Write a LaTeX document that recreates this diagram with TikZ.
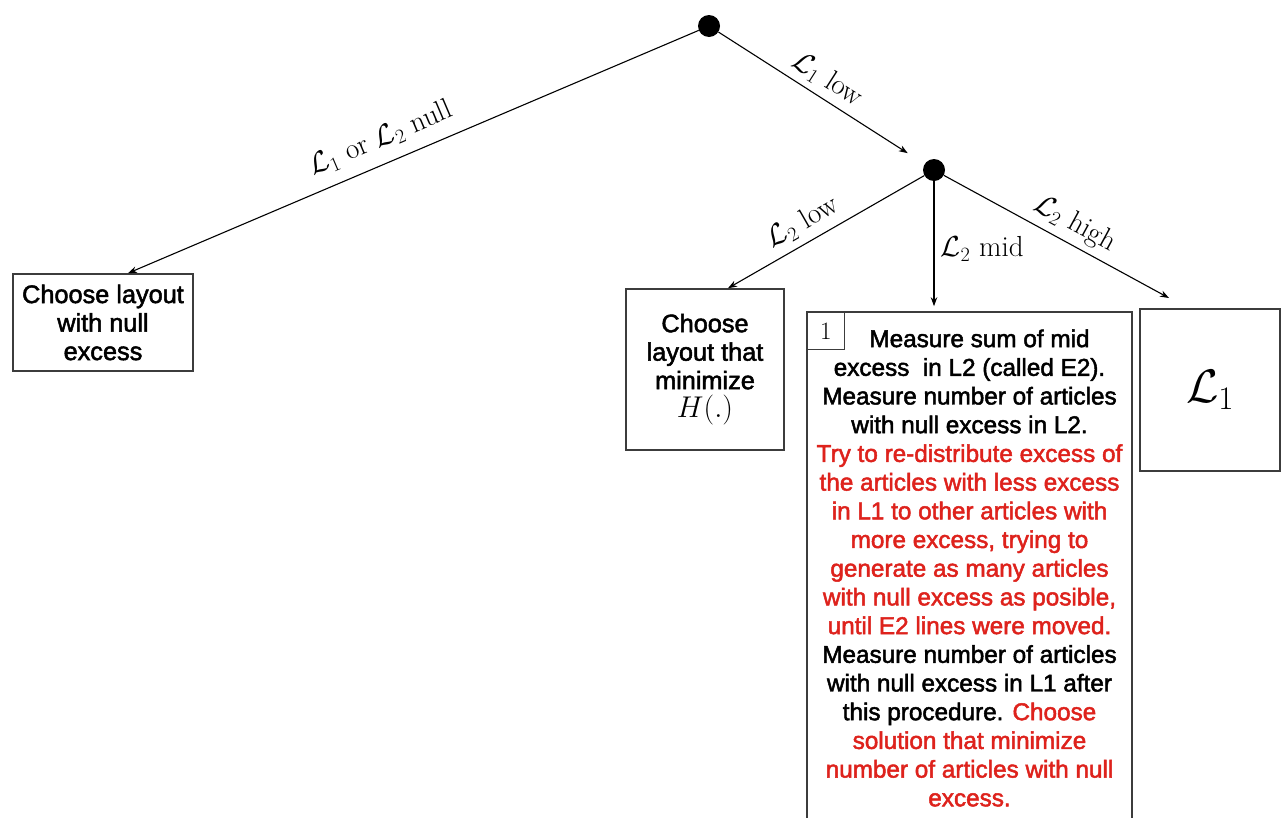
\RequirePackage{fix-cm}
\documentclass[tikz,border=0pt]{standalone}
\usepackage{amsmath}
\usepackage{fontspec}
\usetikzlibrary{arrows.meta}
\newfontfamily\boxsans[FakeBold=2]{Liberation Sans}
\definecolor{txtred}{RGB}{222,34,28}
\definecolor{boxline}{RGB}{60,60,60}
\begin{document}
\begin{tikzpicture}[x=1pt,y=-1pt,
  dot/.style={circle,fill=black,inner sep=0pt,minimum size=22pt},
  arr/.style={-{Stealth[length=9pt,width=6.5pt]},line width=1.1pt},
  lbl/.style={font=\fontsize{29}{34}\selectfont,inner sep=3pt},
  plainbox/.style={draw=boxline,line width=1.6pt,align=center,inner sep=0pt},
  sanstext/.style={font=\boxsans\fontsize{25.3}{28.5}\selectfont}]
\useasboundingbox[fill=white] (0,0) rectangle (1282,817);

% decision points
\node[dot] (top) at (709,26) {};
\node[dot] (mid) at (934,170) {};

% outcome boxes
\node[plainbox,sanstext,minimum width=180pt,minimum height=97pt] (A) at (103,322.5)
  {Choose layout\\with null\\excess};
\node[plainbox,sanstext,minimum width=158pt,minimum height=161pt] (B) at (705,369.5)
  {Choose\\layout that\\minimize\\{\fontsize{30}{30}\selectfont$H(.)$}};
\node[plainbox,font=\boxsans\fontsize{24.3}{28.7}\selectfont,minimum width=325pt,minimum height=512pt] (C) at (969.5,568)
  {\hspace*{20pt}Measure sum of mid\\
   excess\ \ in L2 (called E2).\\
   Measure number of articles\\
   with null excess in L2.\\
   \textcolor{txtred}{Try to re-distribute excess of}\\
   \textcolor{txtred}{the articles with less excess}\\
   \textcolor{txtred}{in L1 to other articles with}\\
   \textcolor{txtred}{more excess, trying to}\\
   \textcolor{txtred}{generate as many articles}\\
   \textcolor{txtred}{with null excess as posible,}\\
   \textcolor{txtred}{until E2 lines were moved.}\\
   Measure number of articles\\
   with null excess in L1 after\\
   this procedure. \textcolor{txtred}{Choose}\\
   \textcolor{txtred}{solution that minimize}\\
   \textcolor{txtred}{number of articles with null}\\
   \textcolor{txtred}{excess.}};
\node[draw=boxline,line width=1.2pt,minimum size=38pt,anchor=north west,inner sep=0pt,
  font=\fontsize{25}{28}\selectfont] (num) at (C.north west) {1};
\node[plainbox,minimum width=140pt,minimum height=162pt,font=\fontsize{47}{52}\selectfont] (D) at (1210,390)
  {$\mathcal{L}_1$};
\coordinate (dtip) at (1169,298);

% branches
\draw[arr] (top) -- ([xshift=25pt]A.north)
  node[lbl,sloped,above=9pt,pos=0.54] {$\mathcal{L}_1$ or $\mathcal{L}_2$ null};
\draw[arr,shorten >=20pt] (top) -- (mid)
  node[lbl,sloped,above=3pt,pos=0.48] {$\mathcal{L}_1$ low};
\draw[arr] (mid) -- ([xshift=23pt]B.north)
  node[lbl,sloped,above=4pt,pos=0.57] {$\mathcal{L}_2$ low};
\draw[arr,shorten >=5pt] (mid) -- (mid |- C.north)
  node[lbl,right=3pt,pos=0.52] {$\mathcal{L}_2$ mid};
\draw[arr] (mid) -- (dtip)
  node[lbl,sloped,above=3pt,pos=0.54] {$\mathcal{L}_2$ high};
\end{tikzpicture}
\end{document}
